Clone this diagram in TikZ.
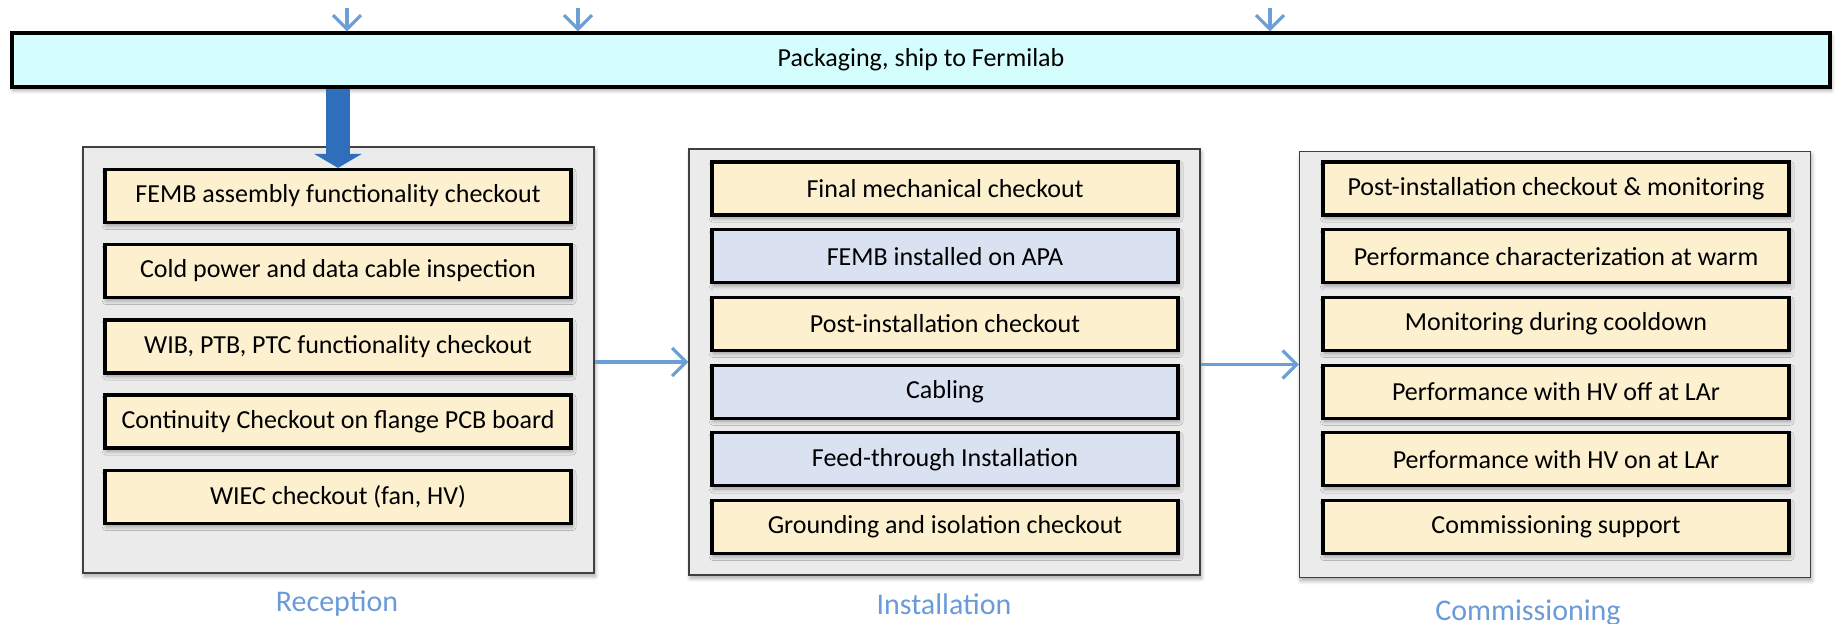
\documentclass[tikz,border=0pt]{standalone}
\usepackage{fontspec}
\setmainfont{Carlito}
\usetikzlibrary{arrows.meta,shadows.blur}

\definecolor{barfill}{HTML}{D4FEFE}
\definecolor{beige}{HTML}{FCF0CF}
\definecolor{paleblue}{HTML}{DAE2F2}
\definecolor{panelfill}{HTML}{EBEBEB}
\definecolor{panelline}{HTML}{404040}
\definecolor{flowblue}{HTML}{6C9FD6}
\definecolor{bigblue}{HTML}{2F6EBA}
\definecolor{labelblue}{HTML}{6A9BD8}

\tikzset{
  softshadow/.style={blur shadow={shadow xshift=0.6pt, shadow yshift=-1.6pt,
      shadow blur radius=2pt, shadow blur steps=6, shadow opacity=35}},
  panel/.style={draw=panelline, line width=0.7pt, fill=panelfill, softshadow,
      minimum width=255.5pt, minimum height=213pt, inner sep=0pt},
  task/.style={draw=black, line width=1.6pt, fill=beige, softshadow,
      minimum width=233pt, minimum height=26.5pt, inner sep=0pt,
      font=\fontsize{13}{15}\selectfont},
  taskb/.style={task, fill=paleblue},
  stage/.style={text=labelblue, font=\fontsize{15}{18}\selectfont},
  flow/.style={draw=flowblue, line width=1.6pt,
      -{Straight Barb[length=7pt, width=14pt]}},
  bigflow/.style={draw=bigblue, line width=12pt,
      -{Triangle[length=7pt, width=23.5pt]}},
}

\begin{document}
\begin{tikzpicture}[x=0.5pt, y=0.5pt]
\useasboundingbox (0,0) rectangle (1839,-623);

% shipping bar with incoming arrows
\node[draw=black, line width=1.6pt, fill=barfill, softshadow,
      minimum width=909pt, minimum height=27pt, inner sep=0pt,
      font=\fontsize{13}{15}\selectfont] (bar) at (921,-60) {Packaging, ship to Fermilab};
\coordinate (in1) at (347,-8);
\coordinate (in2) at (578,-8);
\coordinate (in3) at (1270,-8);
\draw[flow] (in1) -- (in1 |- bar.north);
\draw[flow] (in2) -- (in2 |- bar.north);
\draw[flow] (in3) -- (in3 |- bar.north);

% stage panels
\node[panel] (lp) at (338.5,-360) {};
\node[panel] (mp) at (944.5,-362) {};
\node[panel] (rp) at (1555,-364.5) {};

% reception tasks
\node[task] (r1) at (338,-196)   {FEMB assembly functionality checkout};
\node[task] (r2) at (338,-271)   {Cold power and data cable inspection};
\node[task] (r3) at (338,-346.5) {WIB, PTB, PTC functionality checkout};
\node[task] (r4) at (338,-421.5) {Continuity Checkout on flange PCB board};
\node[task] (r5) at (338,-497)   {WIEC checkout (fan, HV)};

% installation tasks
\node[task]  (i1) at (945,-188.5) {Final mechanical checkout};
\node[taskb] (i2) at (945,-256.2) {FEMB installed on APA};
\node[task]  (i3) at (945,-323.9) {Post-installation checkout};
\node[taskb] (i4) at (945,-391.6) {Cabling};
\node[taskb] (i5) at (945,-459.3) {Feed-through Installation};
\node[task]  (i6) at (945,-527)   {Grounding and isolation checkout};

% commissioning tasks
\node[task] (c1) at (1556,-188.5) {Post-installation checkout \& monitoring};
\node[task] (c2) at (1556,-256.2) {Performance characterization at warm};
\node[task] (c3) at (1556,-323.9) {Monitoring during cooldown};
\node[task] (c4) at (1556,-391.6) {Performance with HV off at LAr};
\node[task] (c5) at (1556,-459.3) {Performance with HV on at LAr};
\node[task] (c6) at (1556,-527)   {Commissioning support};

% connectors
\draw[bigflow] (bar.south -| r1.north) -- (r1.north);
\draw[flow] (lp.east |- mp.west) -- (mp.west);
\draw[flow] (mp.east |- rp.west) -- (rp.west);

% stage labels
\node[stage] (lrec) at (337,-604)  {Reception};
\node[stage] (lins) at (944,-604)  {Installation};
\node[stage] (lcom) at (1528,-613) {Commissioning};
\end{tikzpicture}
\end{document}
